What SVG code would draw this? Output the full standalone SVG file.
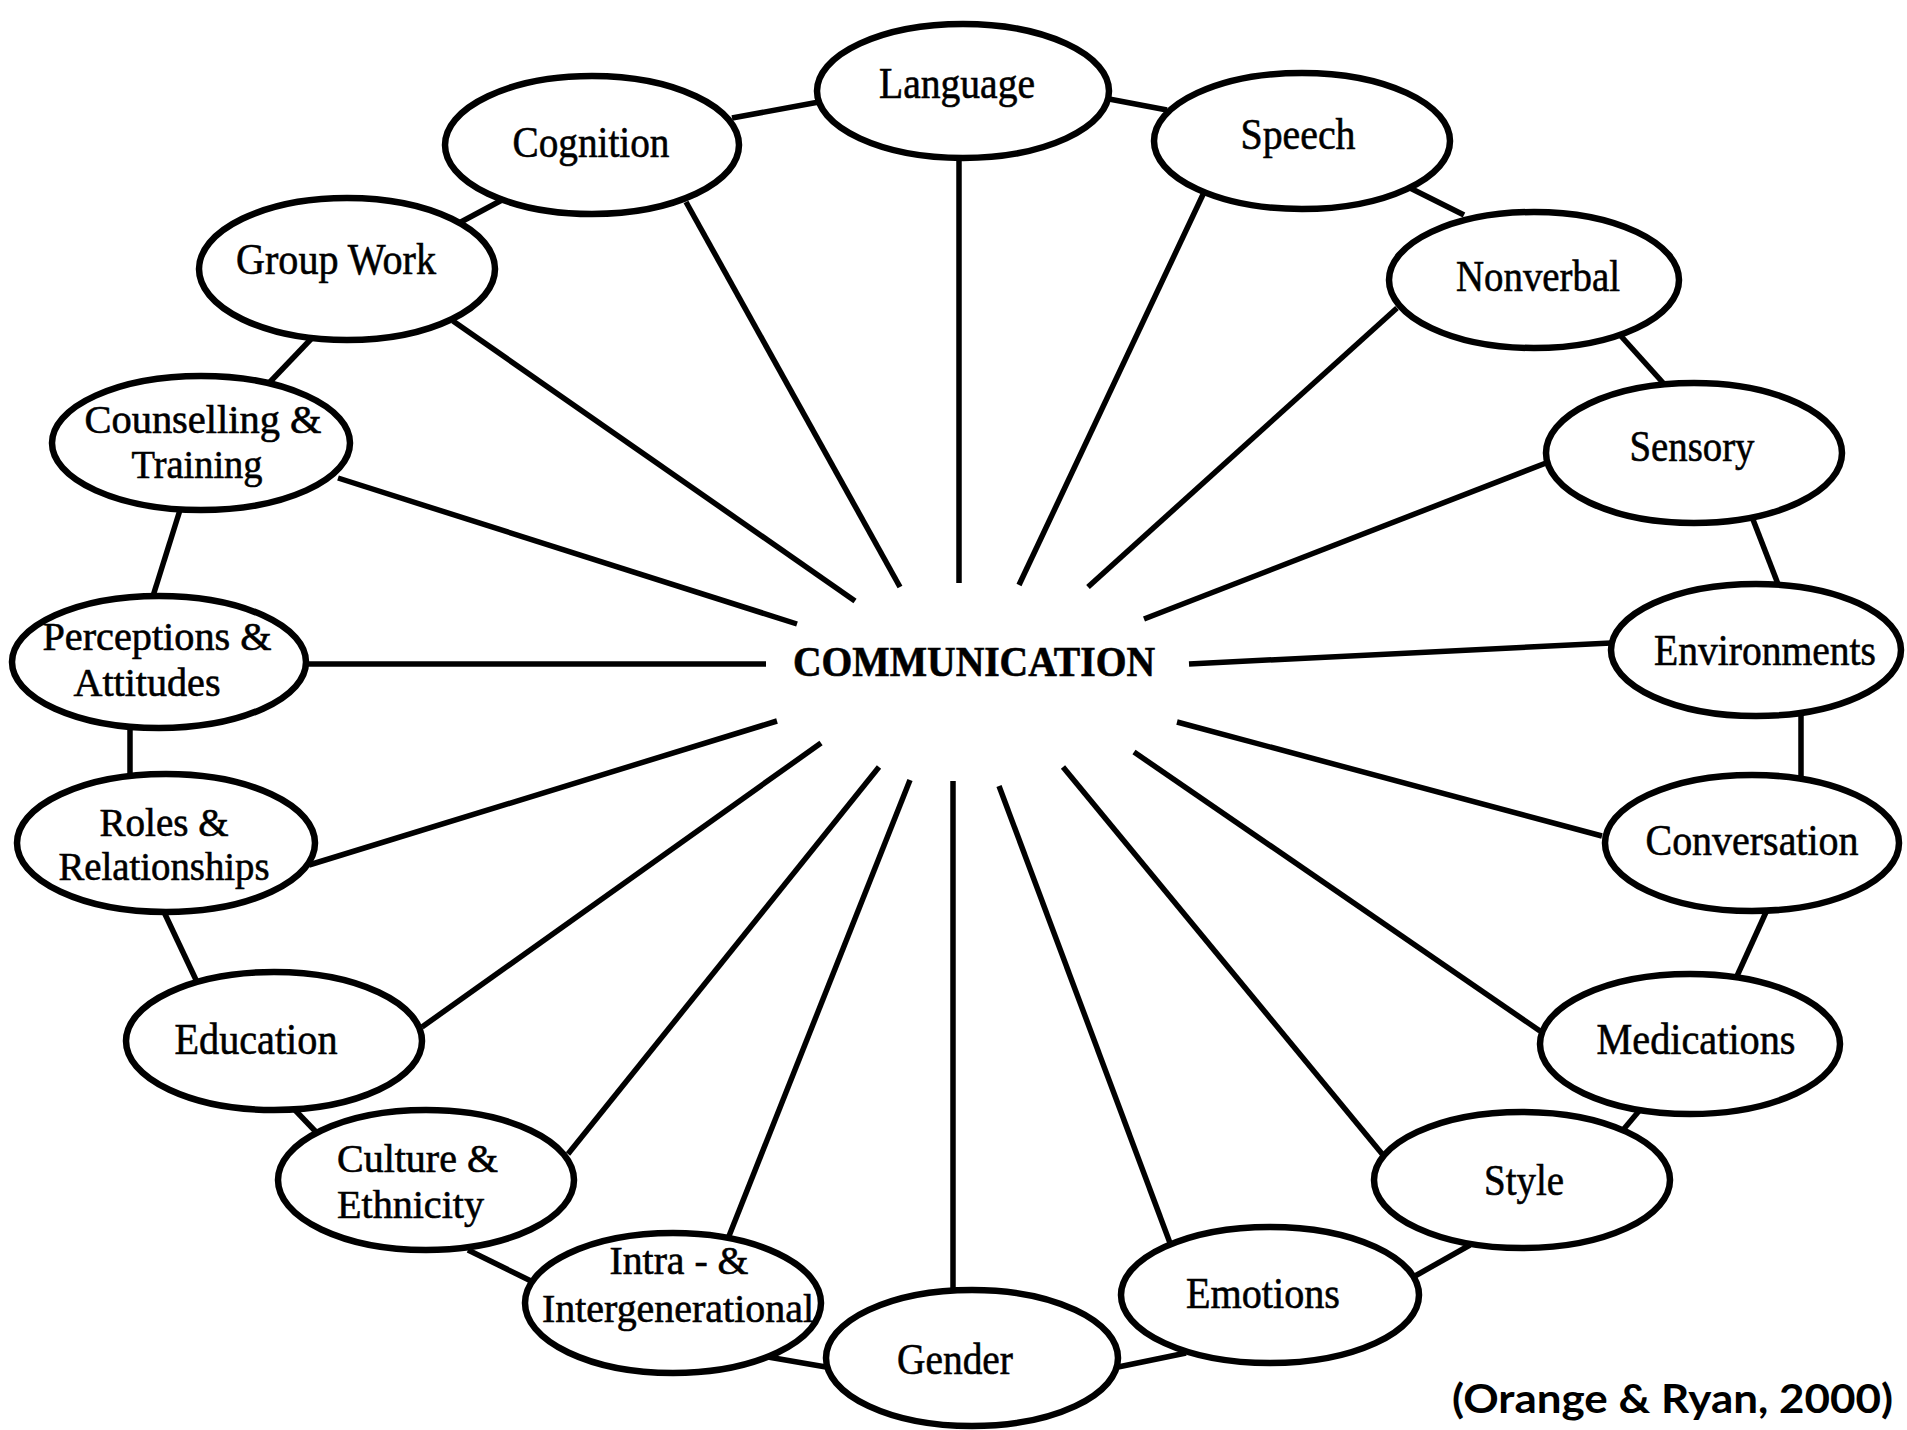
<svg xmlns="http://www.w3.org/2000/svg" width="1907" height="1430" viewBox="0 0 1907 1430">
<style>
.n ellipse{fill:#fff;stroke:#000;stroke-width:6.5}
.c line{stroke:#000;stroke-width:5.5;stroke-linecap:butt}
text{font-family:"Liberation Serif","Times New Roman",serif;font-size:44px;fill:#000;stroke:#000;stroke-width:0.6;text-anchor:middle}
.two{font-size:40px}
.hub{font-weight:bold;font-size:42px}
.cite{font-family:Lato,"Open Sans","Liberation Sans",sans-serif;font-weight:bold;font-size:40px;stroke:none;text-anchor:start}
</style>
<rect width="1907" height="1430" fill="#fff"/>
<g id="connectors" class="c">
<line x1="732" y1="118" x2="819" y2="102"/>
<line x1="1109" y1="99" x2="1167" y2="110"/>
<line x1="1406" y1="186" x2="1464" y2="215"/>
<line x1="1620" y1="335" x2="1665" y2="385"/>
<line x1="1752" y1="517" x2="1778" y2="584"/>
<line x1="1801" y1="714" x2="1801" y2="777"/>
<line x1="1767" y1="910" x2="1737" y2="976"/>
<line x1="1639" y1="1111" x2="1623" y2="1130"/>
<line x1="1470" y1="1245" x2="1415" y2="1276"/>
<line x1="1186" y1="1353" x2="1118" y2="1367"/>
<line x1="826" y1="1367" x2="768" y2="1357"/>
<line x1="533" y1="1282" x2="468" y2="1250"/>
<line x1="294" y1="1109" x2="317" y2="1133"/>
<line x1="164" y1="912" x2="197" y2="982"/>
<line x1="130" y1="727" x2="130" y2="776"/>
<line x1="153" y1="596" x2="180" y2="510"/>
<line x1="269" y1="383" x2="312" y2="338"/>
<line x1="459" y1="223" x2="502" y2="200"/>
<line x1="959" y1="158" x2="959" y2="583"/>
<line x1="1207" y1="186" x2="1019" y2="585"/>
<line x1="1397" y1="308" x2="1088" y2="587"/>
<line x1="1546" y1="463" x2="1144" y2="619"/>
<line x1="1611" y1="643" x2="1189" y2="664"/>
<line x1="1602" y1="836" x2="1177" y2="722"/>
<line x1="1540" y1="1031" x2="1134" y2="752"/>
<line x1="1383" y1="1155" x2="1063" y2="767"/>
<line x1="1170" y1="1243" x2="999" y2="786"/>
<line x1="953" y1="1291" x2="953" y2="781"/>
<line x1="729" y1="1236" x2="910" y2="780"/>
<line x1="568" y1="1154" x2="879" y2="767"/>
<line x1="422" y1="1027" x2="821" y2="743"/>
<line x1="309" y1="865" x2="777" y2="721"/>
<line x1="306" y1="664" x2="766" y2="664"/>
<line x1="338" y1="478" x2="797" y2="624"/>
<line x1="453" y1="321" x2="855" y2="601"/>
<line x1="686" y1="202" x2="900" y2="587"/>
</g>
<g id="hub"><text class="hub" x="974" y="676" textLength="362" lengthAdjust="spacingAndGlyphs">COMMUNICATION</text></g>
<g id="language" class="n"><ellipse cx="963" cy="91" rx="146" ry="67"/><text x="957" y="98" textLength="156" lengthAdjust="spacingAndGlyphs">Language</text></g>
<g id="speech" class="n"><ellipse cx="1302" cy="141" rx="148" ry="68"/><text x="1298" y="149" textLength="115" lengthAdjust="spacingAndGlyphs">Speech</text></g>
<g id="nonverbal" class="n"><ellipse cx="1534" cy="280" rx="145" ry="68"/><text x="1538" y="291" textLength="164" lengthAdjust="spacingAndGlyphs">Nonverbal</text></g>
<g id="sensory" class="n"><ellipse cx="1694" cy="453" rx="148" ry="70"/><text x="1692" y="461" textLength="125" lengthAdjust="spacingAndGlyphs">Sensory</text></g>
<g id="environments" class="n"><ellipse cx="1756" cy="650" rx="145" ry="66"/><text x="1765" y="665" textLength="222" lengthAdjust="spacingAndGlyphs">Environments</text></g>
<g id="conversation" class="n"><ellipse cx="1752" cy="843" rx="147" ry="68"/><text x="1752" y="855" textLength="213" lengthAdjust="spacingAndGlyphs">Conversation</text></g>
<g id="medications" class="n"><ellipse cx="1690" cy="1044" rx="150" ry="70"/><text x="1696" y="1054" textLength="199" lengthAdjust="spacingAndGlyphs">Medications</text></g>
<g id="style" class="n"><ellipse cx="1522" cy="1180" rx="148" ry="68"/><text x="1524" y="1195" textLength="80" lengthAdjust="spacingAndGlyphs">Style</text></g>
<g id="emotions" class="n"><ellipse cx="1270" cy="1295" rx="149" ry="68"/><text x="1263" y="1308" textLength="154" lengthAdjust="spacingAndGlyphs">Emotions</text></g>
<g id="gender" class="n"><ellipse cx="972" cy="1358" rx="146" ry="68"/><text x="955" y="1374" textLength="116" lengthAdjust="spacingAndGlyphs">Gender</text></g>
<g id="intra" class="n"><ellipse cx="673" cy="1303" rx="148" ry="70"/><text class="two" x="679" y="1274" textLength="139" lengthAdjust="spacingAndGlyphs">Intra - &amp;</text><text class="two" x="678" y="1322" textLength="272" lengthAdjust="spacingAndGlyphs">Intergenerational</text></g>
<g id="culture" class="n"><ellipse cx="426" cy="1180" rx="148" ry="70"/><text class="two" x="337" y="1172" style="text-anchor:start" textLength="161" lengthAdjust="spacingAndGlyphs">Culture &amp;</text><text class="two" x="337" y="1218" style="text-anchor:start" textLength="147" lengthAdjust="spacingAndGlyphs">Ethnicity</text></g>
<g id="education" class="n"><ellipse cx="274" cy="1041" rx="148" ry="69"/><text x="256" y="1054" textLength="163" lengthAdjust="spacingAndGlyphs">Education</text></g>
<g id="roles" class="n"><ellipse cx="166" cy="843" rx="149" ry="69"/><text class="two" x="164" y="836" textLength="129" lengthAdjust="spacingAndGlyphs">Roles &amp;</text><text class="two" x="164" y="880" textLength="211" lengthAdjust="spacingAndGlyphs">Relationships</text></g>
<g id="perceptions" class="n"><ellipse cx="159" cy="662" rx="147" ry="66"/><text class="two" x="157" y="650" textLength="229" lengthAdjust="spacingAndGlyphs">Perceptions &amp;</text><text class="two" x="147" y="696" textLength="147" lengthAdjust="spacingAndGlyphs">Attitudes</text></g>
<g id="counselling" class="n"><ellipse cx="201" cy="443" rx="149" ry="67"/><text class="two" x="203" y="433" textLength="237" lengthAdjust="spacingAndGlyphs">Counselling &amp;</text><text class="two" x="197" y="478" textLength="131" lengthAdjust="spacingAndGlyphs">Training</text></g>
<g id="groupwork" class="n"><ellipse cx="347" cy="269" rx="148" ry="71"/><text x="336" y="274" textLength="200" lengthAdjust="spacingAndGlyphs">Group Work</text></g>
<g id="cognition" class="n"><ellipse cx="592" cy="145" rx="147" ry="69"/><text x="591" y="157" textLength="157" lengthAdjust="spacingAndGlyphs">Cognition</text></g>
<text class="cite" x="1452" y="1413" textLength="441" lengthAdjust="spacingAndGlyphs">(Orange &amp; Ryan, 2000)</text>
</svg>
